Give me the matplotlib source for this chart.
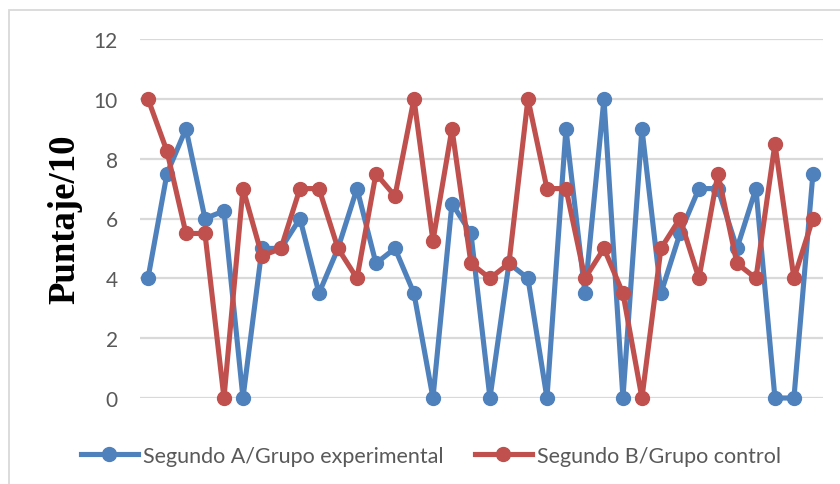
import matplotlib
matplotlib.use("Agg")
import matplotlib.pyplot as plt
from matplotlib.lines import Line2D
from matplotlib.patches import Rectangle

# Scores (out of 10) per student, in list order
grupo_experimental = [4, 7.5, 9, 6, 6.25, 0, 5, 5, 6, 3.5, 5, 7, 4.5, 5, 3.5, 0,
                      6.5, 5.5, 0, 4.5, 4, 0, 9, 3.5, 10, 0, 9, 3.5, 5.5, 7, 7,
                      5, 7, 0, 0, 7.5]
grupo_control = [10, 8.25, 5.5, 5.5, 0, 7, 4.75, 5, 7, 7, 5, 4, 7.5, 6.75, 10,
                 5.25, 9, 4.5, 4, 4.5, 10, 7, 7, 4, 5, 3.5, 0, 5, 6, 4, 7.5,
                 4.5, 4, 8.5, 4, 6]
series_labels = ["Segundo A/Grupo experimental", "Segundo B/Grupo control"]
y_ticks = [0, 2, 4, 6, 8, 10, 12]
y_title = "Puntaje/10"

BLUE = "#4F81BD"
RED = "#C0504D"
GRID = "#D9D9D9"
TEXT = "#595959"
SANS = ["Lato", "DejaVu Sans"]
SERIF = ["Liberation Serif", "DejaVu Serif"]

W, H = 840, 485
fig = plt.figure(figsize=(W / 100, H / 100), dpi=100)
fig.patch.set_facecolor("white")

# outer chart frame
fig.add_artist(Rectangle((8.5 / W, -0.05), 1.0, (H - 11) / H + 0.05,
                         transform=fig.transFigure, fill=False,
                         edgecolor=GRID, linewidth=1.3))

ax = fig.add_axes([140 / W, (H - 399) / H, 683 / W, 359 / H])
x = list(range(len(grupo_experimental)))

lw, ms = 3.7, 10
ax.plot(x, grupo_experimental, color=BLUE, linewidth=lw, marker="o",
        markersize=ms, clip_on=False, zorder=3, solid_joinstyle="round")
ax.plot(x, grupo_control, color=RED, linewidth=lw, marker="o",
        markersize=ms, clip_on=False, zorder=4, solid_joinstyle="round")

ax.set_xlim(-0.42, len(x) - 1 + 0.53)
ax.set_ylim(0, 12)
ax.set_yticks(y_ticks)
ax.set_yticklabels([str(t) for t in y_ticks], family=SANS, fontsize=15,
                   color=TEXT)
ax.tick_params(axis="y", length=0, pad=16)
ax.set_xticks([])
ax.yaxis.grid(True, color=GRID, linewidth=1.6)
ax.set_axisbelow(True)
for s in ax.spines.values():
    s.set_visible(False)

fig.text(65 / W, (H - 219) / H, y_title, rotation=90, ha="center",
         va="center", family=SERIF, fontweight="bold", fontsize=26.5,
         color="black")

handles = [Line2D([], [], color=BLUE, linewidth=lw, marker="o", markersize=ms),
           Line2D([], [], color=RED, linewidth=lw, marker="o", markersize=ms)]
fig.legend(handles, series_labels, loc="center",
           bbox_to_anchor=(431 / W, (H - 457) / H), ncol=2, frameon=False,
           prop={"family": SANS, "size": 15.5}, labelcolor=TEXT,
           handlelength=2.65, handletextpad=0.25, columnspacing=1.45,
           borderpad=0, borderaxespad=0)

fig.savefig("out.png", dpi=100)
